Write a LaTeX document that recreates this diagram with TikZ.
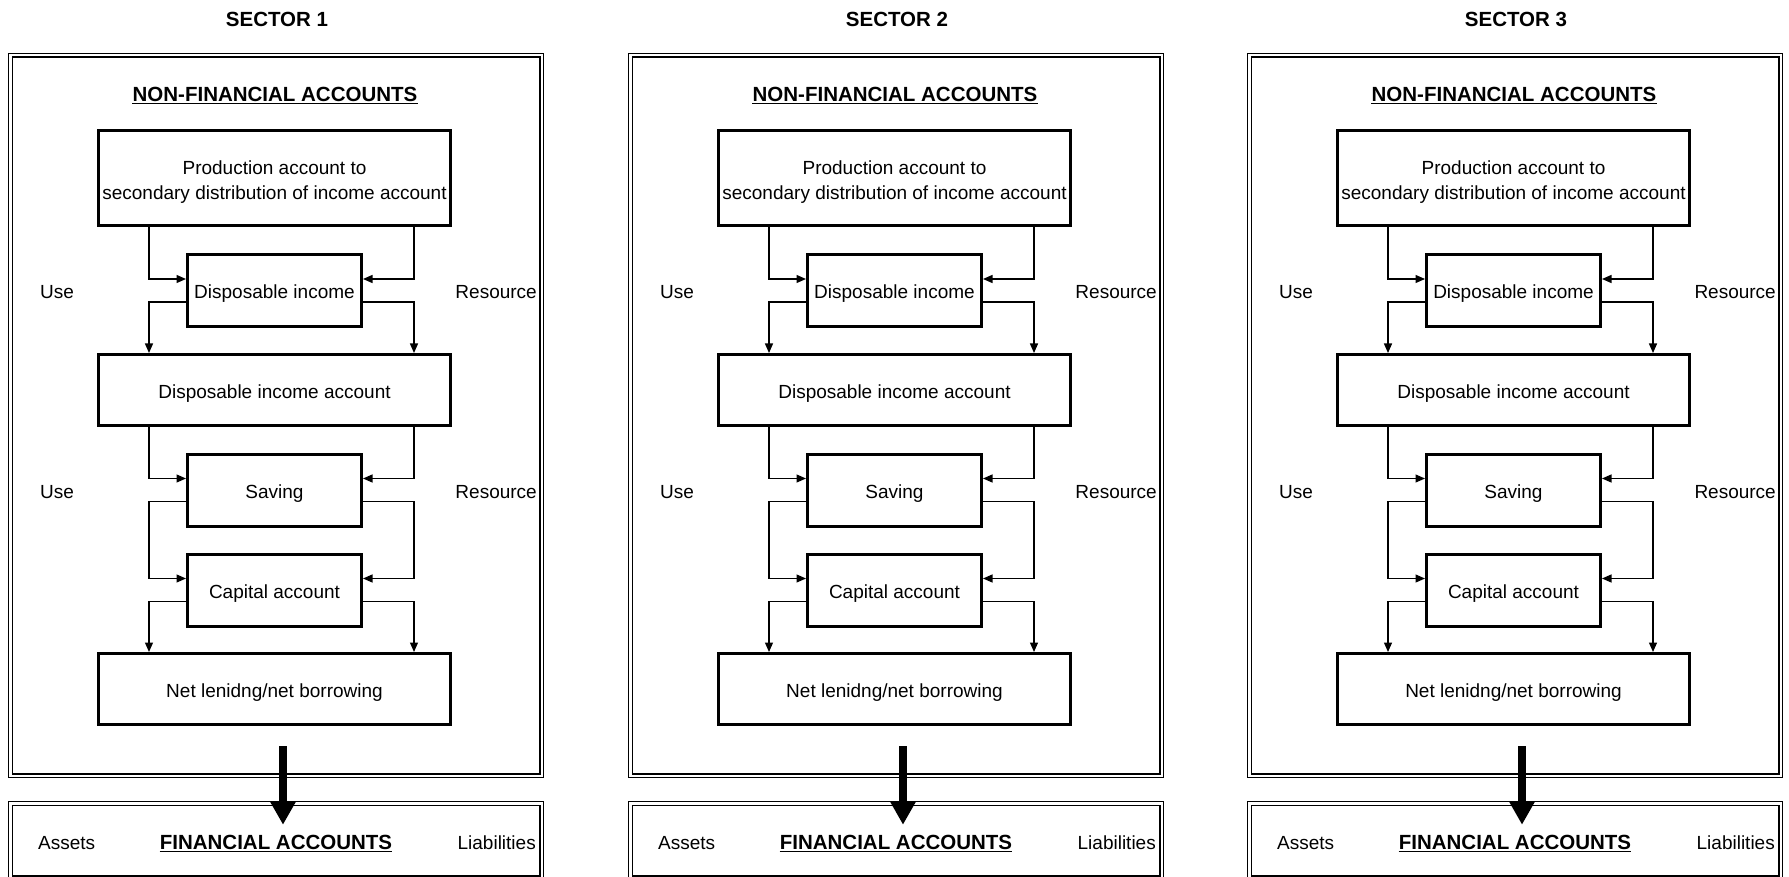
\documentclass[tikz,border=0pt]{standalone}
\usepackage{fontspec}
\setmainfont{Liberation Sans}
\usetikzlibrary{arrows.meta}
\begin{document}
\begin{tikzpicture}[x=1pt, y=-1pt,
  txt/.style={font=\fontsize{19pt}{25pt}\selectfont, inner sep=0pt},
  headtxt/.style={font=\bfseries\fontsize{20.5pt}{24pt}\selectfont, inner sep=0pt},
  sectorframe/.style={draw, line width=1.3pt, double, double distance=2.2pt,
    inner sep=0pt, minimum width=531.2pt},
  accbox/.style={draw, line width=3pt, inner sep=0pt,
    font=\fontsize{19pt}{25pt}\selectfont},
  oneline/.style={text height=16.6pt, text depth=0pt},
  widebox/.style={accbox, oneline, minimum width=352pt, minimum height=71pt},
  smallbox/.style={accbox, oneline, minimum width=174pt, minimum height=72pt},
  flow/.style={line width=1.3pt, -{Triangle[length=9.5pt,width=8pt]}},
  bigarrow/.style={line width=8pt, -{Triangle[length=23pt,width=24pt]}},
  uline/.style={line width=1.4pt},
]
\useasboundingbox[fill=white] (0,0) rectangle (1789,877);

\foreach \L/\n in {8/1, 628/2, 1247/3}{
\begin{scope}[shift={(\L,0)}]
  % sector heading and the two framed panels
  \node[headtxt, anchor=base] (sec\n) at (269,27) {SECTOR \n};
  \node[sectorframe, minimum height=720.2pt] (nfa\n) at (268,415.5) {};
  \node[sectorframe, minimum height=74.2pt] (fin\n) at (268,840.5) {};

  \node[headtxt, anchor=base] (nft\n) at (267,101.5) {NON-FINANCIAL ACCOUNTS};
  \draw[uline] ([yshift=-2pt]nft\n.base west) -- ([yshift=-2pt]nft\n.base east);

  % account boxes
  \node[accbox, minimum width=352pt, minimum height=95pt] (prod\n) at (266.5,178) {};
  \node[txt, align=center] (prodt\n) at (266.5,182.5)
    {Production account to\\secondary distribution of income account};
  \node[smallbox] (di\n)  at (266.5,290.5) {Disposable income};
  \node[widebox]  (dia\n) at (266.5,390)   {Disposable income account};
  \node[smallbox] (sav\n) at (266.5,490)   {Saving};
  \node[smallbox] (cap\n) at (266.5,590)   {Capital account};
  \node[widebox]  (nl\n)  at (266.5,689)   {Net lenidng/net borrowing};

  % side labels
  \node[txt, anchor=base west] (use\n a) at (32,299) {Use};
  \node[txt, anchor=base west] (use\n b) at (32,498) {Use};
  \node[txt, anchor=base east] (res\n a) at (529,299) {Resource};
  \node[txt, anchor=base east] (res\n b) at (529,498) {Resource};

  % financial accounts row
  \node[txt, anchor=base west] (ast\n) at (30,849) {Assets};
  \node[headtxt, anchor=base] (ft\n) at (268,849.5) {FINANCIAL ACCOUNTS};
  \draw[uline] ([yshift=-2pt]ft\n.base west) -- ([yshift=-2pt]ft\n.base east);
  \node[txt, anchor=base east] (lia\n) at (528,849) {Liabilities};

  % use / resource flow lines
  \coordinate (xl\n) at (141,0);
  \coordinate (xr\n) at (406,0);
  \draw[flow] (prod\n.south -| xl\n) |- ([yshift=11.5pt]di\n.west);
  \draw[flow] (prod\n.south -| xr\n) |- ([yshift=11.5pt]di\n.east);
  \draw[flow] ([yshift=-11.5pt]di\n.west) -| (dia\n.north -| xl\n);
  \draw[flow] ([yshift=-11.5pt]di\n.east) -| (dia\n.north -| xr\n);
  \draw[flow] (dia\n.south -| xl\n) |- ([yshift=11.5pt]sav\n.west);
  \draw[flow] (dia\n.south -| xr\n) |- ([yshift=11.5pt]sav\n.east);
  \draw[flow] ([yshift=-11.5pt]sav\n.west) -| (xl\n |- cap\n.north) |- ([yshift=11.5pt]cap\n.west);
  \draw[flow] ([yshift=-11.5pt]sav\n.east) -| (xr\n |- cap\n.north) |- ([yshift=11.5pt]cap\n.east);
  \draw[flow] ([yshift=-11.5pt]cap\n.west) -| (nl\n.north -| xl\n);
  \draw[flow] ([yshift=-11.5pt]cap\n.east) -| (nl\n.north -| xr\n);

  % net lending feeds the financial accounts
  \coordinate (ta\n) at ([xshift=8.5pt,yshift=-20pt]nl\n.south);
  \coordinate (tb\n) at ([yshift=-22pt]fin\n.north);
  \draw[bigarrow] (ta\n) -- (ta\n |- tb\n);
\end{scope}
}
\end{tikzpicture}
\end{document}
